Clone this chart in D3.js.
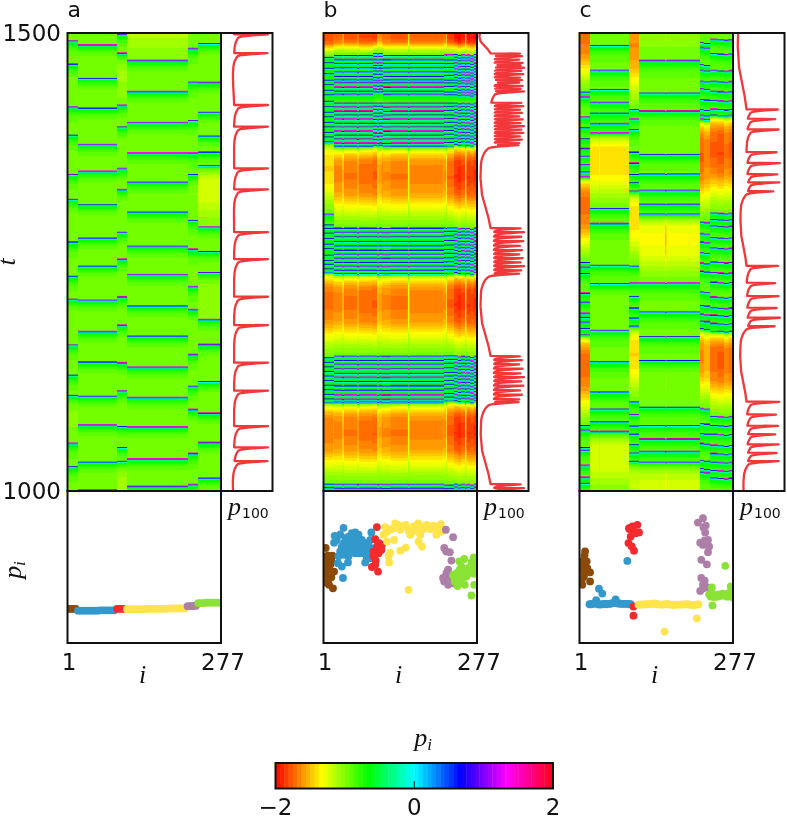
<!DOCTYPE html>
<html><head><meta charset="utf-8">
<script src="https://cdnjs.cloudflare.com/ajax/libs/d3/7.8.5/d3.min.js"></script>
<style>
html,body{margin:0;padding:0;background:#fff}
#wrap{position:relative;width:787px;height:817px;overflow:hidden}
canvas,svg{position:absolute;left:0;top:0}
text{fill:#111}
.num{font-family:"DejaVu Sans",sans-serif;font-size:23px}
.let{font-family:"DejaVu Sans",sans-serif;font-size:22px}
.math{font-family:"Liberation Serif",serif;font-style:italic;font-size:26px}
.sub{font-family:"DejaVu Sans",sans-serif;font-size:14px;font-style:normal}
</style></head><body><div id="wrap"><canvas id="c" width="787" height="817"></canvas><svg id="s" width="787" height="817"></svg></div>
<script>
// ---------- clusters (first index of each of the six clusters, last = 277)
const clusterEdges=[1,20,90,108,218,237,278];
const clusterColors=["#8c4a08","#3399cc","#f32a2e","#ffe44c","#ad7fa8","#8ae234"];
const pTicks=[-2,0,2];
const hsvStops=["#ff0000","#ffff00","#00ff00","#00ffff","#0000ff","#ff00ff","#ff0018"];

// ---------- heat-map reading tables (time to next spike -> rise, gap length -> depth, phase -> shape)
const riseDt=[0,1,2,3,4,6,9,14,22];
const riseP=[2.65,1.6,.75,.38,.3,.22,.12,.04,0];
const gapLen=[0,45,60,70,80,90,110,150];
const gapDepth=[0,0,.12,.28,.55,.8,.85,.85];
const phase=[0,.12,.25,.4,.6,.8,.93,.98,1];
const phaseDepth=[0,.2,.5,.85,1,.95,.75,.55,.4];
const peakOffsets=[.05,.3,.15,.4,.2,.35,.1,.25];

// ---------- panel a: spike times per cluster
const a1=[1491.6,1466.1,1419.5,1388.9,1345.7,1318.7,1272.1,1235,1209.6,1159.7,1126.9,1104.8,1052.4,1026.9];
const a2=[1487.2,1450.8,1418.1,1378.5,1349.3,1313,1276.2,1245.9,1208.5,1174.3,1141.1,1103.7,1072.4,1032,1001.4];
const a3=[1498.6,1478.1,1421.4,1397.7,1352.3,1329.3,1282.7,1253.2,1212.1,1181.2,1140.1,1109.5,1070.9,1047.7,1032.7];
const a4=[1470.2,1436.3,1402.5,1369.3,1337.3,1304.9,1267.4,1236.5,1202.3,1169.2,1135.4,1102.3,1070.2,1035.2,1005.1];
const a5=[1483.3,1446.5,1404.7,1369.3,1346,1295.8,1264.2,1223.4,1198.3,1149.2,1114.6,1089.2,1041.1,1007.3];
const a6=[1488.7,1446.2,1413.7,1387.9,1370.1,1355.5,1288.5,1262,1238.7,1187.4,1160.1,1119.7,1085.1,1053.1,1014.2];
const aBase=[-.96,-1,-.98,-1,-.96,-1];
const aFactor=[1,1,1,1,1,1];
const aBottom=[1000,970,975,970,970,970];

// ---------- panel b
const bBurst1=[1476,1471.3,1466.9,1462.5,1457.7,1453,1449.4,1446.2,1441.3,1437,1433.4,1423.9,1419.5,1415.1,1410.8,1406.4,1402,1397.7,1393.3,1389,1384.6,1380.2,1376.6];
const bBurst2=[1287.1,1282.7,1277.8,1272.9,1268,1263.1,1258.7,1254.3,1250,1245.6,1241.2,1237.4];
const bBurst3=[1147.4,1143,1138.6,1133.7,1128.8,1124.4,1120,1115.1,1110.2,1105.3,1100.4,1097.1];
const bLast=[1007.6,1003.2];
const b1=[1474,1468,1462,1456,1449,1444,1438,1433,1426,1420,1414,1409,1403,1398,1392,1387,1381.3,1302.4,1291,1287,1282,1276,1270,1265,1258,1252,1248,1243,1239,1146,1141,1136,1131,1126,1121,1116,1111,1106,1101,1097,1008,1004];
const b3Top=[1477.8,1474.9,1471.3,1467.6,1465,1462.1,1458.8,1455.2,1451.6,1448.7,1446.2,1442.4,1439.2,1436.3,1423.9,1420.3,1416.7,1413,1409.4,1405.8,1402,1398.4,1394.8,1391.1,1387.5,1383.9,1380.2,1377.7];
const b5=[1476.5,1471,1467,1463,1458,1454,1449,1446,1442,1436,1433,1424,1420,1416,1411,1407,1403,1398,1394,1390,1385,1381,1377,1287.4,1284,1279,1274,1269,1264,1260,1255,1250.5,1246,1242,1238,1147.8,1144,1140,1135,1130,1126,1121,1117,1112,1107,1103,1099,1007,1003];
const b6=[1477,1474,1471,1467.5,1464.5,1461.5,1458,1455,1452,1449,1446,1442.5,1439,1436,1433,1424,1420.5,1417,1413.5,1410,1406.5,1403,1399.5,1396,1392.5,1389,1385.5,1382,1378.5,1287.5,1284,1280.5,1277,1273.5,1270,1266.5,1263,1259.5,1256,1252.5,1249,1245.5,1242,1238.5,1147.6,1144,1140.5,1137,1133.5,1130,1126.5,1123,1119.5,1116,1112.5,1109,1105.5,1102,1098.5,1008,1004.5];
const bBase=[-.95,-.95,-.95,-.95,-.95,-.98];
const bFactor=[.95,.97,.97,.95,.97,1.1];
const bBottom=[960,960,960,960,960,960];
const bStripStart=[1,18,35,38,62,65,89,98,101,107,122,153,156,216,222,224,236,243,249,256,259,266,272];
const bStripFactor=[1,.92,.74,.98,.85,1.02,1.05,.75,.82,.92,1,.55,.95,.9,.66,1.05,1.02,1.05,.98,.6,1.02,.98,1.04];
const bStripShift=[0,0,.3,0,.5,0,0,.4,0,.2,0,.4,0,0,.4,0,0,1.1,.5,1.4,.7,1.7,.3];

// ---------- panel c
const c1=[1435.9,1430.4,1408.6,1397,1385,1374.1,1365.7,1356.6,1348.6,1343.1,1250,1244.5,1238,1216.1,1206.3,1194.3,1189.9,1184.5,1177.9,1170.3,1072,1066.6,1048,1044.7,1028.4,1015.3,1008.7];
const c2=[1486.9,1459.6,1438.8,1424.6,1413,1401.4,1391.1,1308.9,1292.2,1246.7,1226.7,1175.7,1141.6,1108.4,1089.8,1076,1065.1];
const c3=[1416.7,1406.4,1394.8,1370.1,1358.1,1346,1337,1327.5,1245.9,1227.4,1212.9,1200.1,1189.2,1180.1,1097.5,1083.7,1071.3,1062.2,1051,1041.8,1032.7];
const c4=[1470.2,1434.8,1415.1,1367.9,1346.4,1328.6,1313.3,1302.4,1227.4,1195.7,1168.9,1143,1092,1071.7,1057.1,1043.6,1031.6];
const c5=[1489.8,1484.4,1465.8,1459.6,1447.6,1439.6,1427.9,1416.7,1410.5,1406.1,1294,1281.3,1272.1,1260.6,1249.2,1240.1,1217.6,1203,1193.2,1185.9,1177.6,1090.3,1073.9,1063,1052.1,1033.8,1024.8,1021];
const c6=[1493.4,1477.8,1459.6,1447.6,1436.7,1426.8,1417.3,1410.5,1303.8,1296.9,1289.6,1276.9,1265.6,1250.3,1238.7,1228.1,1212.1,1200.5,1192.1,1183.1,1175,1081.9,1072,1062.2,1050.2,1041.1,1032,1022.9,1014.5];
const cBase=[-.95,-.95,-.95,-.95,-.93,-.95];
const cFactor=[.95,.8,.8,.92,.98,.98];
const cBottom=[998,992,962,962,985,990];
const cStripStart=[1,20,36,38,90,108,155,158,218,225,237,250,262,270];
const cStripFactor=[1,1,.8,1,1,1,1.5,1,1,.88,1,1.05,.92,1];
const cStripShift=[0,0,.3,0,0,0,.5,0,0,.8,0,.6,1.2,.4];

// ---------- snapshot scatter, [i, p]
const aBrown=[[1,-1.1],[4,-1.1],[8,-1.1],[12,-1.1],[16,-1.1]];
const aBlue=[[20,-1.15],[25,-1.15],[30,-1.15],[35,-1.15],[40,-1.15],[45,-1.15],[50,-1.15],[55,-1.15],[60,-1.14],[65,-1.14],[70,-1.14],[75,-1.14],[80,-1.14],[85,-1.14]];
const aRed=[[90,-1.1],[94,-1.1],[98,-1.1],[102,-1.1]];
const aYellow=[[108,-1.11],[113,-1.11],[118,-1.11],[123,-1.11],[128,-1.11],[133,-1.11],[138,-1.11],[143,-1.1],[148,-1.1],[153,-1.1],[158,-1.1],[163,-1.1],[168,-1.1],[173,-1.1],[178,-1.1],[183,-1.09],[188,-1.09],[193,-1.09],[198,-1.09],[203,-1.09],[208,-1.09],[212,-1.09]];
const aPurple=[[217,-1.03],[221,-1.03],[225,-1.03],[229,-1.02],[232,-1.02]];
const aGreen=[[236,-.95],[241,-.95],[246,-.95],[251,-.94],[256,-.94],[261,-.94],[266,-.94],[271,-.94],[277,-.94]];

const bBrown=[[5,.5],[9,.3],[17,.3],[8,.19],[15,.17],[5,.06],[14,.08],[6,-.07],[20,-.12],[5,-.21],[15,-.27],[9,-.36],[5,-.41],[11,-.47],[18,-.56],[6,.28],[12,-.07]];
const bBlue=[[37,1.03],[21,.82],[31,.86],[25,.71],[20,.64],[52,.89],[58,.91],[64,.85],[46,.8],[40,.76],[55,.76],[70,.71],[87,.91],[85,.71],[46,.67],[38,.63],[52,.63],[61,.67],[76,.63],[82,.58],[34,.54],[43,.54],[58,.5],[67,.54],[76,.5],[85,.5],[31,.41],[40,.41],[52,.45],[64,.36],[73,.36],[82,.36],[28,.28],[38,.32],[46,.28],[58,.36],[79,.23],[85,.23],[27,.1],[34,.01],[45,.12],[76,.12],[36,-.29],[49,.52],[70,.41]];
const bRed=[[97,1.05],[94,.73],[101,.63],[106,.58],[97,.54],[105,.45],[91,.41],[100,.36],[91,.28],[95,.17],[88,0],[94,.06],[99,-.12]];
const bYellow=[[112,1.05],[109,.85],[115,.93],[121,.98],[130,1.15],[136,1.11],[143,1.07],[149,1.11],[127,1.02],[139,.98],[154,.96],[163,1.07],[171,1.15],[178,1.07],[187,1.11],[199,1.09],[212,1.13],[160,.93],[172,.93],[181,1],[193,1],[206,1],[213,.93],[157,.85],[175,.85],[204,.85],[172,.67],[178,.54],[128,.71],[115,.67],[149,.51],[139,.43],[121,.38],[118,.28],[119,.12],[154,-.6],[139,1.02],[166,1]];
const bPurple=[[221,.98],[234,.785],[218,.5],[228,.39],[222,.41],[231,.17],[225,-.07],[216,-.29],[222,-.23],[218,-.38],[225,-.47],[234,-.43],[230,-.29],[222,-.16]];
const bGreen=[[254,.21],[245,.15],[271,.25],[267,.12],[249,.01],[234,-.21],[240,-.16],[252,-.12],[261,-.03],[272,.06],[271,-.12],[243,-.29],[237,-.38],[249,-.34],[258,-.25],[264,-.16],[242,-.5],[255,-.47],[272,-.47],[267,-.75],[246,-.07],[236,-.27],[252,-.27],[273,-.18]];

const cBrown=[[11,.41],[10,.3],[6,.15],[14,.15],[5,.01],[12,.01],[20,-.14],[6,-.12],[14,-.12],[9,-.25],[5,-.34],[20,-.38],[6,-.47],[10,.06],[15,-.03]];
const cBlue=[[87,.16],[36,-.57],[42,-.7],[31,-.87],[66,-.85],[19,-.98],[22,-.98],[25,-.97],[28,-.96],[31,-.95],[34,-.98],[37,-.99],[40,-.98],[43,-.98],[46,-.97],[49,-.98],[52,-.97],[55,-.97],[58,-.96],[61,-.95],[64,-.93],[67,-.94],[70,-.96],[73,-.96],[76,-.97],[79,-.97],[82,-.97],[85,-.97],[88,-.97],[91,-.98],[93,-.98]];
const cRed=[[96,1.07],[105,1.11],[90,1.02],[99,.93],[93,.8],[108,.91],[89,.63],[95,.54],[99,.43],[98,-1.04],[98,-1.28],[102,.89],[91,1]];
const cYellow=[[107,-.99],[111,-.99],[115,-.99],[119,-.98],[123,-.98],[127,-.98],[131,-.97],[135,-.96],[139,-.98],[143,-.98],[147,-.99],[151,-.99],[155,-.98],[159,-.97],[163,-.99],[167,-.99],[171,-1],[175,-.99],[179,-.99],[183,-.99],[187,-.99],[191,-.98],[195,-.98],[199,-.99],[203,-1],[207,-1],[211,-.99],[215,-.98],[212,-1.35],[154,-1.7]];
const cPurple=[[223,1.285],[214,1.17],[228,1.09],[224,1.04],[227,.91],[218,.64],[226,.7],[232,.71],[223,.58],[234,.54],[232,.39],[220,.19],[230,.07],[220,-.29],[226,-.36],[223,-.47],[230,-.53],[218,-.63],[224,-.56]];
const cGreen=[[263,.03],[240,-1.01],[239,-.54],[273,-.51],[234,-.72],[237,-.78],[240,-.7],[243,-.79],[246,-.74],[249,-.78],[252,-.72],[255,-.76],[258,-.7],[261,-.75],[264,-.72],[267,-.78],[270,-.68],[273,-.76],[276,-.7],[277,-.8]];

// ---------- build
const panels=[
 {letter:"a",x0:67.5,spikes:[a1,a2,a3,a4,a5,a6],base:aBase,factor:aFactor,top:1532,bottoms:aBottom,topDepth:null,starts:[1],facs:[1],shifts:[0],snap:true,
  pts:[aBrown,aBlue,aRed,aYellow,aPurple,aGreen]},
 {letter:"b",x0:323.5,spikes:[b1,[...bLast,...bBurst3,...bBurst2,...bBurst1],[...bLast,...bBurst3,...bBurst2,...b3Top],[...bLast,...bBurst3,...bBurst2,...bBurst1],b5,b6],base:bBase,factor:bFactor,top:1510,bottoms:bBottom,topDepth:.95,starts:bStripStart,facs:bStripFactor,shifts:bStripShift,snap:false,
  pts:[bBrown,bBlue,bRed,bYellow,bPurple,bGreen]},
 {letter:"c",x0:579.5,spikes:[c1,c2,c3,c4,c5,c6],base:cBase,factor:cFactor,top:1530,bottoms:cBottom,topDepth:null,starts:cStripStart,facs:cStripFactor,shifts:cStripShift,snap:false,
  pts:[cBrown,cBlue,cRed,cYellow,cPurple,cGreen]}
];
const riseScale=d3.scaleLinear().domain(riseDt).range(riseP).clamp(true);
const depthScale=d3.scaleLinear().domain(gapLen).range(gapDepth).clamp(true);
const shapeScale=d3.scaleLinear().domain(phase).range(phaseDepth).clamp(true);
const hue=d3.scaleLinear().domain(d3.range(7).map(k=>-2+k*4/6)).range(hsvStops);
const levels=d3.range(64).map(k=>hue(-2+4*(k+.5)/64));
const colorOf=d3.scaleQuantize().domain([-2,2]).range(levels);
const rgbOf=new Map(levels.map(c=>[c,d3.rgb(c)]));

function val(t,sp,p,b,bFac,bottom){
  const k=d3.bisectRight(sp,t);
  const s0=k>0?sp[k-1]:bottom, s1=k<sp.length?sp[k]:p.top;
  const g=s1-s0, f=(t-s0)/g;
  const depth=(k>=sp.length&&p.topDepth!=null)?p.topDepth:depthScale(g);
  return b-depth*bFac*shapeScale(f)+riseScale(s1-t);
}
const W=153.5,H=458,yTop=33,yBot=491,traceW=51.5,lowH=152;
const tY=d3.scaleLinear().domain([1000,1500]).range([yBot,yTop]);
const ctx=document.getElementById("c").getContext("2d");
const svg=d3.select("#s");

panels.forEach((p,pi)=>{
  const iX=d3.scaleLinear().domain([1,277]).range([p.x0,p.x0+W]);
  const off=document.createElement("canvas");off.width=277;off.height=500;
  const oc=off.getContext("2d"),img=oc.createImageData(277,500);
  const sorted=p.spikes.map(s=>[...s].sort(d3.ascending));
  for(let col=1;col<=277;col++){
    const blk=Math.min(5,d3.bisectRight(clusterEdges,col)-1);
    const st=Math.max(0,d3.bisectRight(p.starts,col)-1);
    for(let r=0;r<500;r++){
      const t=1000+r;
      const v=val(t+p.shifts[st],sorted[blk],p,p.base[blk],p.factor[blk]*p.facs[st],p.bottoms[blk]);
      const c=rgbOf.get(colorOf(Math.max(-2,Math.min(2,v))));
      const o=((499-r)*277+col-1)*4;
      img.data[o]=c.r;img.data[o+1]=c.g;img.data[o+2]=c.b;img.data[o+3]=255;
    }
  }
  oc.putImageData(img,0,0);
  ctx.imageSmoothingEnabled=true;ctx.imageSmoothingQuality="high";
  ctx.drawImage(off,iX(1),tY(1500),W,H);

  const g=svg.append("g");
  // p100 trace: sampled each t step, plus the value at the tip and just after each spike
  const tr=d3.scaleLinear().domain([-2,2]).range([p.x0+W,p.x0+W+traceW]);
  const blk100=2,ss=sorted[blk100];
  const inSpike=t=>{const k=d3.bisectLeft(ss,t);return k<ss.length&&ss[k]-t<1;};
  const tips=ss.map((s,k)=>s-(p.snap?.02:peakOffsets[k%peakOffsets.length]));
  const afters=ss.map(s=>s+.02);
  const ts=[...d3.range(1000,1500.5,1).filter(t=>!inSpike(t)),...tips,...afters].filter(t=>t>=1000&&t<=1500).sort(d3.ascending);
  const series=ts.map(t=>[t,val(t,ss,p,p.base[blk100],p.factor[blk100],p.bottoms[blk100])]);
  const cid="clip"+pi;
  const defs=g.append("defs");
  defs.append("clipPath").attr("id",cid+"t").append("rect").attr("x",p.x0+W).attr("y",yTop).attr("width",traceW).attr("height",H);
  defs.append("clipPath").attr("id",cid+"s").append("rect").attr("x",p.x0).attr("y",yBot).attr("width",W).attr("height",lowH);
  g.append("path").attr("d",d3.line().x(d=>tr(d[1])).y(d=>tY(d[0]))(series))
    .attr("fill","none").attr("stroke","#f2373b").attr("stroke-width",2.3).attr("stroke-linejoin","round")
    .attr("clip-path",`url(#${cid}t)`);
  // scatter
  const pY=d3.scaleLinear().domain([-2,2]).range([yBot+lowH,yBot]);
  const sc=g.append("g").attr("clip-path",`url(#${cid}s)`);
  p.pts.forEach((arr,k)=>{
    sc.selectAll(null).data(arr).enter().append("circle")
      .attr("cx",d=>iX(d[0])).attr("cy",d=>pY(d[1])).attr("r",3.9).attr("fill",clusterColors[k]);
  });
  // frames
  const fr=(x,y,w,h)=>g.append("rect").attr("x",x).attr("y",y).attr("width",w).attr("height",h).attr("fill","none").attr("stroke","#111").attr("stroke-width",2);
  fr(p.x0,yTop,W,H);fr(p.x0+W,yTop,traceW,H);fr(p.x0,yBot,W,lowH);
  // text
  g.append("text").attr("class","let").attr("x",p.x0).attr("y",17).text(p.letter);
  const lab=g.append("text").attr("x",p.x0+W+7).attr("y",515);
  lab.append("tspan").attr("class","math").text("p");
  lab.append("tspan").attr("class","sub").attr("dy",3).attr("dx",1).text("100");
  g.append("text").attr("class","num").attr("x",iX(1)+1.5).attr("y",670).attr("text-anchor","middle").text("1");
  g.append("text").attr("class","num").attr("x",iX(277)+2).attr("y",670).attr("text-anchor","middle").text("277");
  g.append("text").attr("class","math").attr("x",p.x0+75).attr("y",683).attr("text-anchor","middle").text("i");
});
// left axis texts
[1500,1000].forEach(v=>svg.append("text").attr("class","num").attr("x",61).attr("y",tY(v)+8).attr("text-anchor","end").text(v));
svg.append("text").attr("class","math").attr("transform","translate(15,262) rotate(-90)").attr("text-anchor","middle").text("t");
const yl=svg.append("text").attr("transform","translate(21,570) rotate(-90)").attr("text-anchor","middle");
yl.append("tspan").attr("class","math").text("p");
yl.append("tspan").attr("class","math").attr("dy",4).style("font-size","17px").text("i");
// colour bar
const cbX=d3.scaleLinear().domain([-2,2]).range([275.5,553]);
svg.append("g").selectAll("rect").data(levels).enter().append("rect")
  .attr("x",(d,k)=>cbX(-2+4*k/64)).attr("y",763).attr("height",25.5)
  .attr("width",(d,k)=>cbX(-2+4*(k+1)/64)-cbX(-2+4*k/64)+.4).attr("fill",d=>d);
svg.append("rect").attr("x",275.5).attr("y",763).attr("width",277.5).attr("height",25.5).attr("fill","none").attr("stroke","#111").attr("stroke-width",2);
svg.append("line").attr("x1",cbX(0)).attr("x2",cbX(0)).attr("y1",788).attr("y2",781).attr("stroke","#111");
pTicks.forEach(v=>svg.append("text").attr("class","num").attr("x",cbX(v)).attr("y",815).attr("text-anchor","middle").text(v<0?"\u2212"+(-v):v));
const cl=svg.append("text").attr("x",423).attr("y",746).attr("text-anchor","middle");
cl.append("tspan").attr("class","math").text("p");
cl.append("tspan").attr("class","math").attr("dy",4).style("font-size","17px").text("i");
</script></body></html>
